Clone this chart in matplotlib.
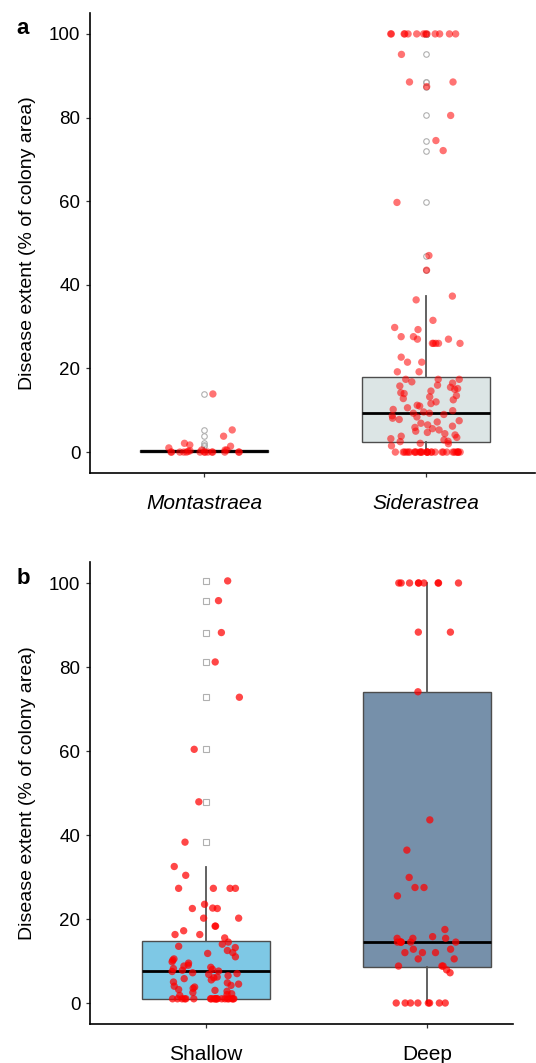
import numpy as np
import matplotlib
matplotlib.use("Agg")
import matplotlib.pyplot as plt

plt.rcParams['font.family'] = ['Liberation Sans', 'DejaVu Sans']

# ---------------- data (panel a) ----------------
species = ["Montastraea", "Siderastrea"]
montastraea = [13.9, 5.3, 3.8, 2.1, 1.7, 1.4, 1.0, 0.5, 0.5, 0.5, 0.3, 0.2,
               0, 0, 0, 0, 0, 0, 0, 0, 0, 0, 0, 0, 0, 0]
siderastrea = ([100] * 13 + [95.1, 88.5, 88.5, 87.4, 80.5, 74.5, 72.1, 59.7, 47.0, 43.5,
               37.3, 36.4, 31.5, 29.8, 29.3, 27.6, 27.6, 27.0, 27.0, 26.0, 26.0, 26.0,
               26.0, 26.0, 22.7, 21.5, 21.5, 19.2, 19.2,
               17.4, 17.4, 17.4, 16.8, 16.5, 16.0, 15.8, 15.5, 15.2, 15.0, 14.6, 14.2,
               14.0, 13.5, 13.2, 12.8, 12.5, 12.0, 11.6, 11.2, 11.0, 10.6, 10.2, 9.9,
               9.6, 9.3, 9.3, 9.0, 8.7, 8.4, 8.1, 7.8, 7.5, 7.2, 6.9, 6.5, 6.2, 5.9,
               5.6, 5.3, 5.0, 4.7, 4.4, 4.1, 3.8, 3.5, 3.2, 2.9, 2.6, 2.5, 2.1, 2.0, 1.5]
               + [0] * 30)
a_q1 = [0.0, 2.5]
a_med = [0.25, 9.3]
a_q3 = [0.5, 17.9]
a_whislo = [0.0, 0.0]
a_whishi = [1.0, 37.3]

# ---------------- data (panel b) ----------------
depths = ["Shallow", "Deep"]
shallow = ([100.5, 95.8, 88.2, 81.2, 72.8, 60.4, 47.9, 38.3, 32.5, 30.4,
            27.3, 27.3, 27.3, 27.3, 23.5, 22.6, 22.5, 22.5, 20.2, 20.2, 18.3, 18.3,
            17.2, 16.3, 16.3, 15.5,
            14.5, 14.0, 13.5, 13.2, 12.5, 12.0, 11.8, 11.0, 10.5, 10.2, 9.8, 9.5,
            9.0, 8.8, 8.5, 8.2, 8.0, 7.8, 7.6, 7.5, 7.2, 7.0, 6.8, 6.5, 6.2, 6.0,
            5.8, 5.5, 5.0, 4.8, 4.5, 4.2, 4.0, 3.8, 3.5, 3.2, 3.0, 2.8, 2.5, 2.2,
            2.0, 1.8]
           + [1.0] * 20)
deep = ([100] * 9 + [88.3, 88.3, 74.1, 43.6, 36.4, 29.9, 27.5, 27.5, 25.5,
        17.5, 15.8, 15.4, 15.4, 15.4, 14.5, 14.5, 14.5, 14.5, 14.5, 14.5,
        12.8, 12.8, 12.0, 12.0, 12.0, 10.5, 10.5, 8.8, 8.8, 8.8, 7.9, 7.2]
        + [0] * 8)
b_q1 = [1.0, 8.6]
b_med = [7.6, 14.6]
b_q3 = [14.8, 74.1]
b_whislo = [1.0, 0.0]
b_whishi = [32.5, 100.0]

yticks = [0, 20, 40, 60, 80, 100]
ylabel = "Disease extent (% of colony area)"

W, H = 536, 1063
fig = plt.figure(figsize=(W / 100, H / 100), dpi=100)


def px_axes(l, t, r, b):
    return fig.add_axes([l / W, 1 - b / H, (r - l) / W, (b - t) / H])


rng = np.random.default_rng(7)


def panel(ax, groups, labels, q1, med, q3, wlo, whi, faces, alpha, flier_marker,
          xlim, italic, width):
    stats = []
    for i, g in enumerate(groups):
        g = np.asarray(g, float)
        fl = g[(g > whi[i]) | (g < wlo[i])]
        stats.append(dict(med=med[i], q1=q1[i], q3=q3[i], whislo=wlo[i],
                          whishi=whi[i], fliers=fl, label=labels[i]))
    bp = ax.bxp(stats, positions=[1, 2], widths=width, patch_artist=True,
                showfliers=True,
                boxprops=dict(edgecolor='#4d4d4d', linewidth=1.0),
                medianprops=dict(color='black', linewidth=2.0),
                whiskerprops=dict(color='#555555', linewidth=1.3),
                capprops=dict(linewidth=0),
                flierprops=dict(marker=flier_marker, markerfacecolor='none',
                                markeredgecolor='#b0b0b0', markersize=4,
                                markeredgewidth=0.8))
    for patch, fc in zip(bp['boxes'], faces):
        patch.set_facecolor(fc)
    for i, g in enumerate(groups):
        g = np.asarray(g, float)
        jit = rng.uniform(-0.16, 0.16, size=len(g))
        ax.scatter(np.full(len(g), i + 1) + jit, g, s=28, color='red',
                   alpha=alpha, edgecolors='none', zorder=3)
    ax.set_xlim(*xlim)
    ax.set_ylim(-5, 105)
    ax.set_yticks(yticks)
    ax.set_yticklabels([str(t) for t in yticks], fontsize=13.5)
    ax.set_xticks([1, 2])
    ax.set_xticklabels(labels, fontsize=15, style='italic' if italic else 'normal')
    ax.set_ylabel(ylabel, fontsize=14, labelpad=9)
    for s in ['top', 'right']:
        ax.spines[s].set_visible(False)
    for s in ['left', 'bottom']:
        ax.spines[s].set_linewidth(1.2)
        ax.spines[s].set_color('black')
    ax.tick_params(axis='both', length=3, width=0.9, color='#333333')
    ax.tick_params(axis='x', pad=12)
    ax.tick_params(axis='y', pad=4)
    ax.set_facecolor('white')


ax1 = px_axes(90, 13, 535, 473)
panel(ax1, [montastraea, siderastrea], species, a_q1, a_med, a_q3, a_whislo, a_whishi,
      ['#e4e9e9', '#dce5e5'], 0.55, 'o', (0.4865, 2.491), True, 0.575)

ax2 = px_axes(90, 562, 513, 1024)
panel(ax2, [shallow, deep], depths, b_q1, b_med, b_q3, b_whislo, b_whishi,
      ['#7ec8e5', '#7690aa'], 0.72, 's', (0.475, 2.389), False, 0.58)

fig.text(23 / W, 1 - 28 / H, "a", fontsize=16, fontweight='bold', ha='center', va='center')
fig.text(23 / W, 1 - 578 / H, "b", fontsize=16, fontweight='bold', ha='center', va='center')

fig.savefig("out.png", dpi=100, facecolor='white')
